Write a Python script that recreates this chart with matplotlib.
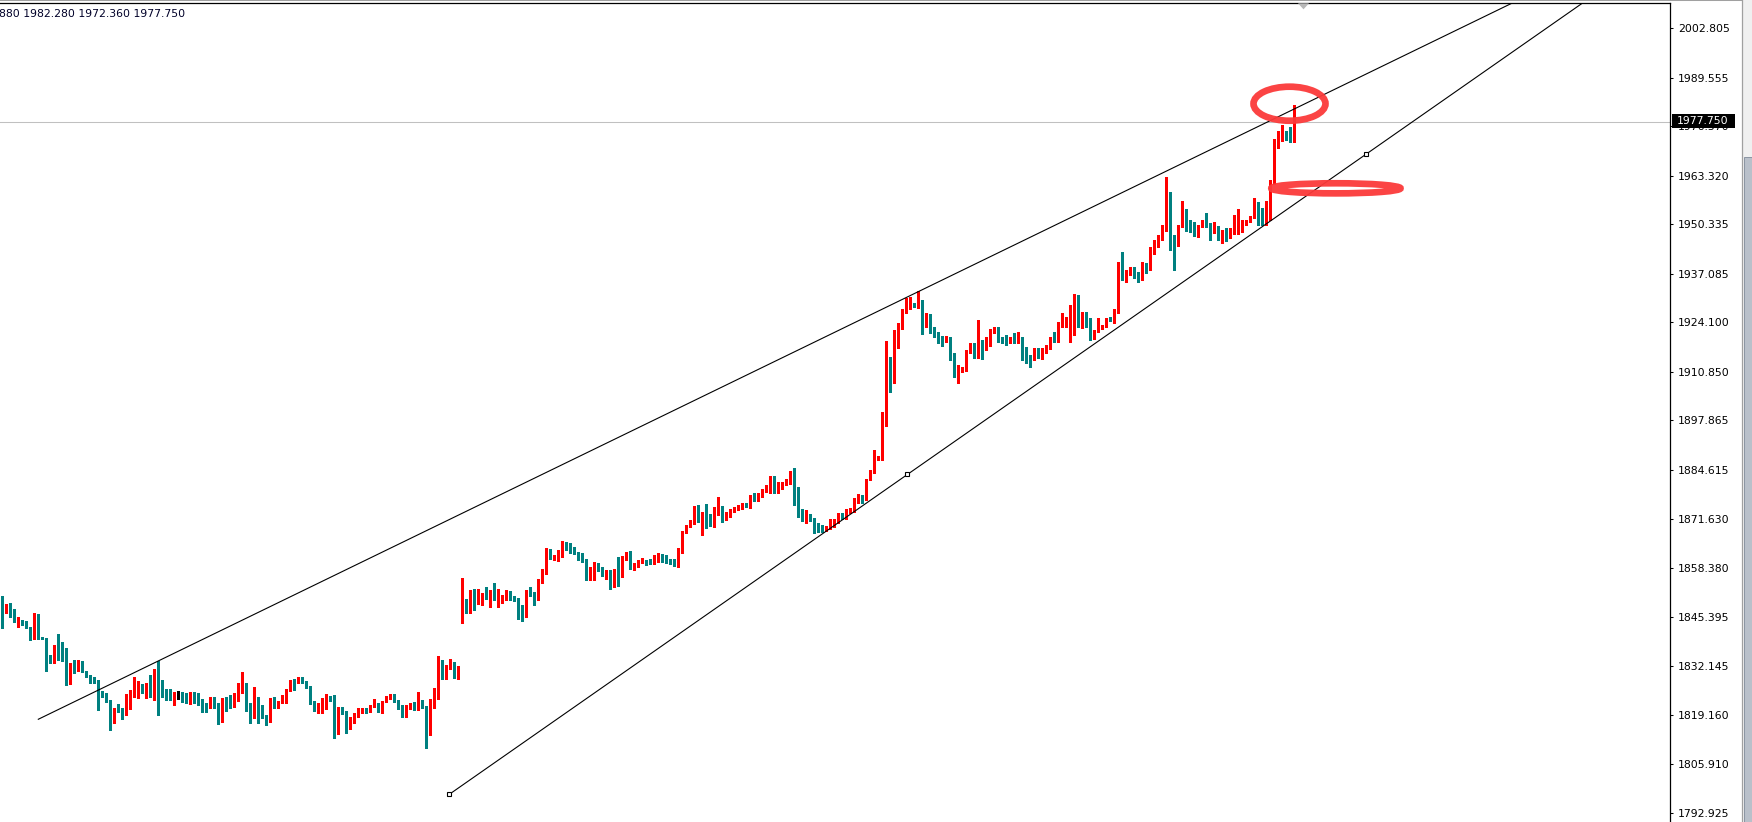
import numpy as np
import matplotlib
matplotlib.use("Agg")
import matplotlib.pyplot as plt
import matplotlib.transforms as mtransforms
from matplotlib.patches import Ellipse, Rectangle, Polygon
from matplotlib.lines import Line2D

# hourly candles (oldest first)
opens = [
    1847.7, 1846.5, 1849.0, 1847.2, 1843.9, 1844.2, 1844.0, 1842.7, 1839.4, 1844.8,
    1839.9, 1839.6, 1834.3, 1833.4, 1837.6, 1836.5, 1833.8, 1828.7, 1832.8, 1831.4,
    1831.9, 1830.9, 1829.6, 1829.0, 1828.5, 1825.2, 1824.9, 1823.1, 1817.2, 1820.8,
    1820.8, 1819.3, 1823.8, 1823.8, 1826.1, 1826.6, 1826.0, 1826.1, 1824.9, 1828.9,
    1826.6, 1825.0, 1824.3, 1823.8, 1823.8, 1824.3, 1823.1, 1822.6, 1823.5, 1823.5,
    1822.9, 1821.1, 1820.9, 1823.8, 1821.7, 1819.1, 1823.5, 1823.1, 1822.0, 1823.3,
    1825.1, 1827.5, 1820.6, 1818.4, 1824.0, 1821.3, 1818.8, 1817.6, 1823.7, 1821.3,
    1822.4, 1822.4, 1825.6, 1828.4, 1828.1, 1828.6, 1828.1, 1826.7, 1822.6, 1819.7,
    1819.7, 1821.8, 1823.7, 1824.1, 1815.7, 1821.1, 1820.1, 1815.7, 1818.2, 1819.2,
    1820.3, 1820.5, 1820.3, 1821.4, 1821.7, 1820.5, 1822.6, 1823.8, 1824.3, 1822.9,
    1821.7, 1819.4, 1821.5, 1822.2, 1820.5, 1822.9, 1821.6, 1815.1, 1821.2, 1823.5,
    1832.8, 1829.0, 1831.7, 1832.2, 1829.2, 1846.5, 1850.0, 1847.7, 1852.7, 1848.8,
    1850.0, 1851.2, 1850.3, 1852.1, 1849.9, 1850.5, 1850.6, 1851.5, 1850.6, 1850.0,
    1848.3, 1845.4, 1852.4, 1851.8, 1849.9, 1854.5, 1857.0, 1863.4, 1861.1, 1861.5,
    1862.5, 1864.3, 1863.6, 1863.1, 1862.6, 1861.1, 1860.8, 1856.3, 1857.4, 1858.6,
    1858.4, 1856.6, 1857.5, 1854.5, 1857.7, 1856.1, 1861.3, 1862.3, 1858.5, 1859.5,
    1860.0, 1860.3, 1860.3, 1859.7, 1860.9, 1861.9, 1861.6, 1860.5, 1860.0, 1859.2,
    1862.5, 1867.9, 1869.5, 1870.4, 1874.3, 1870.9, 1873.2, 1872.4, 1871.3, 1873.0,
    1874.6, 1871.7, 1872.4, 1873.5, 1874.3, 1874.5, 1875.7, 1875.3, 1877.9, 1876.6,
    1877.7, 1879.1, 1878.6, 1882.7, 1878.6, 1879.7, 1880.9, 1881.0, 1883.9, 1879.1,
    1874.1, 1872.1, 1872.6, 1871.7, 1869.0, 1868.8, 1868.6, 1869.0, 1869.8, 1870.5,
    1872.8, 1871.7, 1873.5, 1873.7, 1876.2, 1877.0, 1876.8, 1882.1, 1883.9, 1887.5,
    1887.5, 1896.5, 1913.6, 1910.6, 1921.0, 1922.9, 1926.9, 1928.3, 1928.8, 1928.1,
    1930.1, 1924.1, 1926.1, 1921.8, 1920.7, 1920.3, 1920.0, 1920.2, 1915.1, 1909.7,
    1911.4, 1911.4, 1916.3, 1918.2, 1915.4, 1918.9, 1918.0, 1918.0, 1921.3, 1922.1,
    1919.6, 1919.4, 1918.8, 1919.8, 1918.7, 1919.8, 1916.7, 1915.1, 1914.6, 1916.9,
    1914.5, 1916.3, 1917.3, 1920.3, 1919.1, 1922.9, 1923.4, 1924.1, 1925.9, 1928.0,
    1923.8, 1926.8, 1924.3, 1919.8, 1921.9, 1922.5, 1923.2, 1925.2, 1924.7, 1927.0,
    1939.2, 1937.2, 1937.4, 1938.3, 1937.0, 1935.9, 1939.7, 1938.3, 1944.2, 1945.0,
    1946.4, 1948.8, 1957.0, 1947.2, 1945.0, 1949.9, 1954.1, 1950.8, 1950.6, 1947.3,
    1949.9, 1951.0, 1950.1, 1948.1, 1949.7, 1946.1, 1948.3, 1946.8, 1948.1, 1949.4,
    1949.9, 1950.4, 1951.0, 1952.1, 1955.0, 1954.6, 1950.1, 1956.1, 1961.3, 1972.7,
    1972.9, 1974.6, 1974.2, 1972.88,
]
highs = [
    1850.9, 1848.8, 1849.1, 1847.4, 1845.2, 1844.5, 1844.2, 1842.7, 1846.3, 1846.1,
    1840.1, 1839.6, 1835.2, 1837.7, 1840.8, 1838.7, 1836.9, 1832.9, 1833.7, 1833.8,
    1833.5, 1830.9, 1829.9, 1829.4, 1828.5, 1825.5, 1825.1, 1823.1, 1821.0, 1822.0,
    1821.0, 1824.7, 1825.8, 1829.4, 1828.2, 1827.3, 1827.6, 1829.8, 1831.3, 1833.5,
    1828.5, 1826.0, 1826.1, 1825.2, 1825.4, 1825.2, 1824.9, 1825.3, 1825.3, 1824.9,
    1823.3, 1822.2, 1824.0, 1824.0, 1822.2, 1823.6, 1823.8, 1824.5, 1824.9, 1827.6,
    1830.7, 1827.8, 1822.4, 1826.7, 1824.0, 1821.7, 1819.1, 1823.7, 1824.0, 1822.8,
    1824.4, 1826.0, 1828.6, 1828.8, 1829.2, 1829.4, 1828.3, 1826.9, 1822.9, 1822.2,
    1823.6, 1824.7, 1824.2, 1824.4, 1821.2, 1821.3, 1820.1, 1818.7, 1819.7, 1820.9,
    1820.9, 1821.0, 1821.8, 1823.5, 1822.2, 1822.9, 1824.2, 1824.7, 1824.6, 1823.1,
    1821.7, 1821.8, 1822.2, 1822.6, 1825.3, 1823.1, 1821.6, 1823.5, 1826.2, 1834.9,
    1833.7, 1832.5, 1834.1, 1833.4, 1832.3, 1855.7, 1850.2, 1852.6, 1852.9, 1852.9,
    1851.7, 1853.3, 1852.5, 1854.5, 1852.7, 1851.2, 1852.5, 1852.3, 1850.8, 1850.3,
    1848.4, 1852.5, 1853.3, 1852.0, 1855.6, 1858.1, 1863.8, 1863.6, 1861.9, 1863.1,
    1865.6, 1865.5, 1865.0, 1864.1, 1862.8, 1862.3, 1860.8, 1858.6, 1860.1, 1859.8,
    1858.6, 1857.9, 1857.9, 1858.1, 1861.4, 1861.5, 1862.8, 1863.0, 1859.8, 1860.6,
    1861.2, 1860.6, 1860.7, 1861.9, 1862.3, 1862.2, 1861.8, 1860.7, 1860.7, 1863.7,
    1868.3, 1870.0, 1871.3, 1875.0, 1875.3, 1873.4, 1875.4, 1872.8, 1874.6, 1877.5,
    1875.0, 1873.3, 1874.1, 1874.6, 1875.3, 1875.9, 1875.9, 1877.9, 1878.4, 1878.4,
    1879.5, 1880.6, 1882.9, 1882.9, 1881.5, 1881.5, 1882.1, 1884.4, 1885.1, 1880.2,
    1874.3, 1873.9, 1872.9, 1871.9, 1870.5, 1869.9, 1869.7, 1871.4, 1871.6, 1873.0,
    1873.0, 1874.1, 1874.4, 1877.0, 1878.2, 1877.9, 1882.3, 1884.6, 1890.0, 1888.4,
    1900.2, 1919.1, 1914.9, 1922.1, 1923.8, 1927.8, 1930.5, 1931.0, 1929.2, 1932.6,
    1930.2, 1926.5, 1926.2, 1922.9, 1921.6, 1920.4, 1920.4, 1920.3, 1916.0, 1912.7,
    1912.1, 1916.7, 1918.5, 1918.5, 1924.7, 1919.4, 1920.3, 1922.2, 1922.8, 1922.9,
    1920.1, 1920.7, 1920.3, 1921.2, 1921.6, 1920.3, 1917.6, 1915.4, 1917.2, 1917.2,
    1917.2, 1918.0, 1920.3, 1921.6, 1924.1, 1926.5, 1925.6, 1928.7, 1931.6, 1931.3,
    1927.0, 1927.0, 1925.2, 1922.1, 1925.2, 1923.4, 1925.3, 1925.6, 1927.8, 1940.3,
    1943.0, 1938.1, 1938.8, 1938.8, 1937.6, 1940.3, 1939.9, 1944.3, 1946.1, 1947.5,
    1950.1, 1962.9, 1959.0, 1947.5, 1950.1, 1956.6, 1954.3, 1951.5, 1950.8, 1950.1,
    1951.5, 1953.4, 1950.6, 1950.8, 1949.9, 1948.8, 1949.4, 1949.2, 1952.8, 1954.4,
    1951.5, 1951.6, 1952.5, 1957.4, 1956.4, 1954.8, 1956.5, 1962.2, 1973.0, 1975.3,
    1976.9, 1975.3, 1976.4, 1982.28,
]
lows = [
    1842.5, 1846.3, 1845.2, 1843.9, 1842.7, 1843.2, 1842.3, 1839.2, 1839.3, 1839.4,
    1839.3, 1831.0, 1832.9, 1833.1, 1833.8, 1833.6, 1827.1, 1827.4, 1830.4, 1831.0,
    1830.5, 1829.2, 1827.6, 1827.6, 1820.5, 1824.0, 1822.7, 1815.1, 1816.9, 1820.0,
    1818.1, 1819.1, 1820.7, 1823.8, 1823.6, 1825.1, 1823.6, 1824.0, 1823.1, 1819.1,
    1824.0, 1823.1, 1823.1, 1821.8, 1823.4, 1822.7, 1822.2, 1822.0, 1822.2, 1821.8,
    1820.0, 1819.8, 1820.9, 1820.9, 1816.7, 1817.3, 1820.3, 1820.9, 1821.3, 1822.9,
    1824.9, 1820.3, 1816.9, 1818.4, 1817.1, 1818.2, 1816.4, 1817.3, 1820.9, 1821.1,
    1822.2, 1822.2, 1825.5, 1825.8, 1827.8, 1827.6, 1826.3, 1822.0, 1820.1, 1819.7,
    1819.7, 1820.7, 1822.9, 1813.0, 1814.1, 1819.3, 1814.4, 1815.3, 1816.9, 1818.7,
    1819.7, 1819.6, 1820.0, 1821.3, 1820.0, 1819.7, 1822.5, 1823.3, 1822.6, 1820.8,
    1818.7, 1818.7, 1820.6, 1820.5, 1820.5, 1821.1, 1810.4, 1813.8, 1821.1, 1823.5,
    1828.7, 1828.7, 1831.5, 1829.0, 1828.7, 1843.8, 1846.5, 1846.3, 1847.2, 1848.8,
    1848.5, 1850.0, 1848.1, 1849.9, 1848.1, 1849.0, 1849.9, 1849.9, 1849.7, 1844.9,
    1844.3, 1845.2, 1850.8, 1848.5, 1849.9, 1854.5, 1856.8, 1860.8, 1860.6, 1860.3,
    1861.3, 1863.1, 1862.3, 1862.2, 1860.6, 1860.1, 1855.1, 1855.2, 1855.2, 1857.5,
    1856.4, 1855.4, 1852.9, 1853.3, 1853.5, 1855.9, 1860.6, 1858.1, 1857.9, 1858.6,
    1859.7, 1859.2, 1859.5, 1859.5, 1860.1, 1860.1, 1859.8, 1859.5, 1858.9, 1858.6,
    1862.4, 1867.7, 1869.3, 1870.2, 1870.8, 1867.2, 1869.0, 1869.7, 1869.5, 1872.6,
    1870.8, 1871.3, 1872.1, 1873.3, 1874.0, 1874.3, 1874.8, 1874.4, 1876.4, 1876.4,
    1877.3, 1878.8, 1878.4, 1878.4, 1878.4, 1879.5, 1880.6, 1880.9, 1875.3, 1872.1,
    1871.1, 1870.4, 1871.1, 1867.9, 1868.1, 1868.1, 1868.4, 1868.8, 1869.5, 1870.4,
    1871.4, 1871.4, 1873.2, 1873.5, 1875.9, 1875.7, 1876.6, 1881.9, 1883.7, 1887.3,
    1887.3, 1896.5, 1905.6, 1907.8, 1917.2, 1922.4, 1926.7, 1927.6, 1928.1, 1927.9,
    1921.0, 1922.9, 1921.3, 1920.1, 1918.7, 1917.9, 1918.9, 1914.0, 1909.4, 1908.0,
    1910.9, 1911.2, 1915.8, 1914.5, 1914.5, 1914.3, 1916.7, 1917.9, 1921.2, 1918.9,
    1918.5, 1918.0, 1918.6, 1918.5, 1918.5, 1914.0, 1913.1, 1912.2, 1914.0, 1914.5,
    1914.2, 1916.0, 1917.1, 1918.9, 1918.8, 1922.8, 1922.9, 1918.9, 1920.7, 1922.9,
    1922.5, 1922.9, 1919.4, 1919.6, 1921.6, 1922.2, 1922.9, 1924.5, 1924.0, 1926.7,
    1935.4, 1935.0, 1936.7, 1935.9, 1935.0, 1935.4, 1937.2, 1938.1, 1942.5, 1944.2,
    1946.1, 1948.6, 1943.4, 1938.1, 1944.5, 1949.7, 1948.5, 1948.3, 1947.3, 1947.0,
    1949.5, 1949.7, 1946.1, 1947.9, 1946.1, 1945.2, 1945.8, 1946.6, 1947.7, 1947.7,
    1948.3, 1950.1, 1950.8, 1951.9, 1950.0, 1950.0, 1950.0, 1951.6, 1961.1, 1970.6,
    1972.7, 1972.9, 1972.4, 1972.36,
]
closes = [
    1846.5, 1848.5, 1845.4, 1844.1, 1844.2, 1843.4, 1842.5, 1839.4, 1844.8, 1839.6,
    1839.4, 1834.1, 1833.3, 1837.6, 1836.3, 1833.8, 1828.7, 1832.8, 1831.6, 1831.9,
    1830.7, 1829.4, 1827.7, 1828.3, 1824.9, 1824.5, 1822.9, 1817.3, 1820.8, 1820.5,
    1819.6, 1824.0, 1824.3, 1826.4, 1826.6, 1825.8, 1826.2, 1824.6, 1829.3, 1826.5,
    1824.8, 1823.8, 1823.8, 1824.0, 1823.8, 1822.9, 1822.7, 1823.5, 1823.3, 1822.7,
    1820.6, 1820.9, 1823.8, 1821.5, 1819.1, 1823.5, 1822.9, 1822.2, 1823.4, 1825.1,
    1827.4, 1820.3, 1818.2, 1824.0, 1821.0, 1818.5, 1817.6, 1823.5, 1821.3, 1822.6,
    1822.6, 1825.8, 1828.4, 1826.0, 1829.0, 1827.8, 1826.7, 1822.4, 1820.8, 1822.0,
    1822.1, 1823.5, 1823.2, 1815.7, 1821.0, 1819.7, 1815.5, 1818.4, 1819.5, 1820.5,
    1820.7, 1820.4, 1821.6, 1821.6, 1820.5, 1821.7, 1824.0, 1824.3, 1822.6, 1821.1,
    1819.4, 1821.7, 1822.0, 1820.5, 1822.9, 1821.2, 1815.1, 1821.3, 1823.7, 1832.8,
    1829.0, 1832.2, 1832.2, 1829.3, 1832.0, 1849.9, 1847.7, 1852.5, 1848.8, 1850.8,
    1851.2, 1850.3, 1852.1, 1849.9, 1850.8, 1850.8, 1851.5, 1850.0, 1850.0, 1845.4,
    1845.4, 1852.4, 1851.5, 1849.9, 1854.7, 1857.9, 1863.6, 1861.0, 1861.6, 1862.8,
    1864.3, 1863.5, 1862.5, 1862.5, 1860.8, 1860.7, 1856.6, 1857.9, 1858.6, 1858.1,
    1856.7, 1857.4, 1854.5, 1857.9, 1856.4, 1861.3, 1862.5, 1858.3, 1859.6, 1860.4,
    1860.6, 1859.8, 1859.7, 1861.6, 1861.9, 1861.5, 1860.1, 1859.8, 1859.5, 1862.6,
    1868.0, 1869.6, 1870.9, 1874.3, 1871.1, 1873.2, 1872.1, 1871.3, 1873.2, 1874.3,
    1871.7, 1872.7, 1873.8, 1874.2, 1874.8, 1875.7, 1875.3, 1877.7, 1876.6, 1878.1,
    1879.3, 1880.4, 1881.9, 1878.6, 1880.9, 1881.0, 1881.8, 1883.9, 1879.1, 1873.9,
    1871.9, 1872.6, 1871.3, 1869.0, 1868.6, 1868.4, 1869.0, 1870.1, 1871.4, 1872.8,
    1871.7, 1873.9, 1874.1, 1876.8, 1877.0, 1876.8, 1882.2, 1884.2, 1887.6, 1888.2,
    1896.6, 1913.6, 1910.6, 1921.0, 1923.2, 1927.2, 1928.5, 1928.8, 1928.5, 1932.3,
    1924.3, 1926.1, 1921.6, 1920.4, 1920.3, 1920.1, 1920.3, 1914.9, 1909.6, 1911.8,
    1911.8, 1916.4, 1918.2, 1915.4, 1918.9, 1917.9, 1918.5, 1921.6, 1922.1, 1919.2,
    1919.0, 1919.0, 1920.1, 1918.8, 1919.8, 1916.7, 1914.7, 1914.7, 1916.9, 1914.7,
    1916.7, 1917.8, 1920.1, 1919.1, 1923.1, 1924.0, 1924.3, 1926.2, 1928.0, 1924.0,
    1927.0, 1924.0, 1919.6, 1921.9, 1922.7, 1923.2, 1925.1, 1924.9, 1927.4, 1939.2,
    1937.2, 1937.6, 1938.1, 1936.7, 1936.1, 1939.7, 1938.3, 1944.2, 1945.4, 1946.4,
    1949.0, 1957.0, 1947.2, 1945.0, 1949.9, 1954.1, 1950.4, 1950.4, 1947.5, 1949.9,
    1951.0, 1950.0, 1948.1, 1949.7, 1946.3, 1948.3, 1946.8, 1948.3, 1949.9, 1950.0,
    1950.8, 1951.3, 1952.3, 1955.0, 1954.1, 1950.1, 1956.4, 1962.0, 1972.9, 1973.3,
    1974.6, 1973.7, 1972.4, 1977.75,
]

# price scale labels on the right
tick_values = [2002.805, 1989.555, 1976.570, 1963.320, 1950.335, 1937.085, 1924.100,
               1910.850, 1897.865, 1884.615, 1871.630, 1858.380, 1845.395, 1832.145,
               1819.160, 1805.910, 1792.925]
tick_labels = ["%.3f" % v for v in tick_values]

last_price = 1977.75
header = "880 1982.280 1972.360 1977.750"

# trend lines: (bar index, price) anchors
upper_line = [(9.0, 1817.97), (226.0, 1930.75)]
lower_line = [(111.7, 1797.86), (340.9, 1969.03)]

# hand drawn red ellipses: centre (bar, price), width in bars, height in price
marks = [((321.8, 1982.56), 18.0, 9.1), ((333.4, 1959.94), 32.3, 2.7)]

W, H = 1752, 822
BULL = "#ff0000"
BEAR = "#008080"

fig = plt.figure(figsize=(W / 100, H / 100), dpi=100, facecolor="white")
ax = fig.add_axes([0, 0, 1670 / W, 819 / H])
ax.set_facecolor("white")

# one bar every 4 px, first bar centred at x = 2.3 px
x0 = -2.3 / 4
ax.set_xlim(x0, x0 + 1670 / 4)
ax.set_ylim(1790.50, 2009.49)

o = np.array(opens)
h = np.array(highs)
l = np.array(lows)
c = np.array(closes)
idx = np.arange(len(o))
colors = np.where(c > o, BULL, np.where(c < o, BEAR, "#000000"))

ax.axhline(last_price, color="#c0c0c0", lw=0.75, zorder=1)

ax.vlines(idx, l, h, colors=colors, lw=0.75, antialiased=False, zorder=3)
body_low = np.minimum(o, c)
body_h = np.maximum(np.abs(c - o), 0.27)
ax.bar(idx, body_h, bottom=body_low, width=0.75, color=colors, linewidth=0,
       antialiased=False, zorder=3)

# trend lines, drawn as rays to the right
x_end = 430
for (xa, ya), (xb, yb) in [upper_line, lower_line]:
    k = (yb - ya) / (xb - xa)
    ax.plot([xa, x_end], [ya, ya + k * (x_end - xa)], color="black", lw=0.8, zorder=4)

(xa, ya), (xb, yb) = lower_line
ax.plot([xa, (xa + xb) / 2, xb], [ya, (ya + yb) / 2, yb], "s", ms=3.4,
        mfc="white", mec="black", mew=0.8, zorder=5)

for (cx, cy), ew, eh in marks:
    ax.add_patch(Ellipse((cx, cy), ew, eh, fill=False, ec="#fb3a3a", lw=4.8,
                         alpha=0.95, zorder=6))

# axes frame like the terminal window
for side in ["left", "bottom"]:
    ax.spines[side].set_visible(False)
for side in ["top", "right"]:
    ax.spines[side].set_linewidth(0.9)
    ax.spines[side].set_color("black")

ax.set_xticks([])
ax.yaxis.tick_right()
ax.set_yticks(tick_values)
ax.set_yticklabels(tick_labels)
ax.tick_params(axis="y", direction="out", length=2.2, width=0.75, pad=3.5,
               labelsize=7.8, colors="black")

# current price box
blend = mtransforms.blended_transform_factory(ax.transAxes, ax.transData)
ax.add_patch(Rectangle((1672 / 1670, last_price - 1.6), 63 / 1670, 3.58,
                       transform=blend, fc="black", ec="none", clip_on=False, zorder=7))
ax.text(1677 / 1670, last_price + 0.2, "%.3f" % last_price, transform=blend,
        ha="left", va="center", fontsize=7.8, color="white", zorder=8)

# header with OHLC values, cut at the left edge
fig.text(-1 / W, 1 - 14 / H, header, fontsize=7.8, color="#000028",
         ha="left", va="center")

# thin top border and the shift marker
fig.add_artist(Line2D([0, 1741 / W], [1 - 0.5 / H] * 2, color="#a0a0a0", lw=0.75))
tri = [(1298 / W, 1 - 3.3 / H), (1309 / W, 1 - 3.3 / H), (1303.5 / W, 1 - 9.3 / H)]
fig.add_artist(Polygon(tri, closed=True, fc="#b8b8b8", ec="none"))

# window scroll bar on the far right
fig.add_artist(Rectangle((1742 / W, 0), 10 / W, 1, fc="#f0f0f0", ec="none"))
fig.add_artist(Line2D([1741.5 / W] * 2, [0, 1], color="#a0a0a0", lw=0.9))
fig.add_artist(Rectangle((1744 / W, 0), 8 / W, 1 - 157 / H, fc="#b9c0ca",
                         ec="#8a94a2", lw=0.7))

fig.savefig("out.png", dpi=100, facecolor="white")
